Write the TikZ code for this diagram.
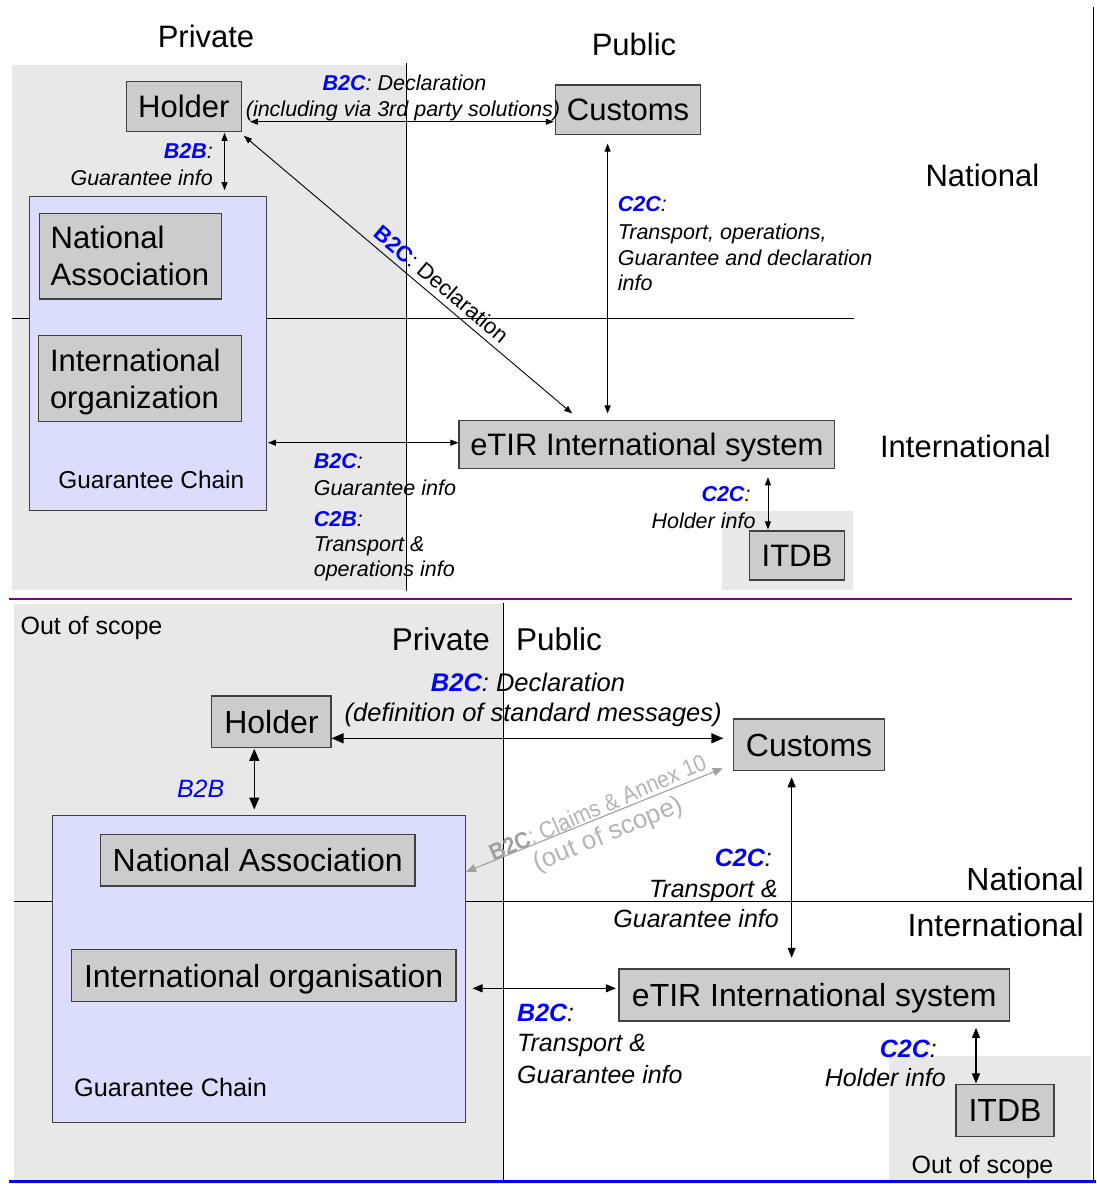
\documentclass[tikz,border=0pt]{standalone}
\usepackage{fontspec}
\usepackage{graphicx}
\setmainfont{Liberation Sans}
\usetikzlibrary{arrows.meta,calc}
\definecolor{bggray}{HTML}{E8E8E8}
\definecolor{boxgray}{HTML}{CCCCCC}
\definecolor{lav}{HTML}{DCDCFC}
\definecolor{kblue}{HTML}{0000FF}
\definecolor{kpurple}{HTML}{800080}
\definecolor{agray}{HTML}{A0A0A0}
\definecolor{tgray}{HTML}{B4B4B4}
\newcommand\myfs[1]{\fontsize{#1}{#1}\selectfont}
\newcommand\bc[1]{\textcolor{kblue}{\bfseries #1}}
\begin{document}
\begin{tikzpicture}[x=1pt,y=-1pt,
  boxbase/.style={draw=black!75, fill=boxgray, line width=1.1pt, inner sep=0pt},
  boxA/.style={boxbase, text height=22.2pt, text depth=0pt, font=\myfs{31}},
  boxB/.style={boxbase, text height=22.9pt, text depth=0pt, font=\myfs{32}},
  chainbox/.style={draw=black!75, fill=lav, line width=1pt, inner sep=0pt},
  lab/.style={inner sep=0pt, font=\myfs{21.5}\itshape},
  labB/.style={inner sep=0pt, font=\myfs{25}\itshape},
  hd/.style={inner sep=0pt, font=\myfs{31}},
  hdB/.style={inner sep=0pt, font=\myfs{32}},
  conn/.style={<->, >={Triangle[length=8pt,width=6pt]}, line width=0.9pt},
  connB/.style={<->, >={Triangle[length=12pt,width=10pt]}, line width=1.3pt},
  connC/.style={<->, >={Triangle[length=10pt,width=8pt]}, line width=1.1pt},
  connG/.style={<->, >={Triangle[length=10pt,width=8pt]}, line width=1.1pt, draw=agray, fill=agray}
]
\useasboundingbox (0,0) rectangle (1096,1184);
% backgrounds
\fill[bggray] (12,65) rectangle (406,590);
\fill[bggray] (721.8,511) rectangle (853.2,590);
\fill[bggray] (14.3,604) rectangle (503.6,1180);
\fill[bggray] (889.3,1056) rectangle (1090.8,1180);
% region lines
\draw[line width=1pt] (406,63) -- (406,591);
\draw[line width=1pt] (12,318.5) -- (854,318.5);
\draw[line width=1pt] (1093,7) -- (1093,1181);
\draw[kpurple, line width=2pt] (9,599) -- (1072,599);
\draw[line width=1pt] (503.6,603) -- (503.6,1180);
\draw[line width=1pt] (13.6,901.7) -- (1093,901.7);
\draw[kblue, line width=2.5pt] (9,1181.5) -- (1096,1181.5);

% ---------- top diagram ----------
\node[chainbox, minimum width=237.1pt, minimum height=314.7pt] (chain1) at (147.85,353.35) {};
\node[boxbase, font=\fontsize{31}{36.7}\selectfont, align=left, text width=159.7pt, inner xsep=11.4pt, minimum height=85.7pt] (na1) at (130.55,256.15) {National\\Association};
\node[boxbase, font=\fontsize{31}{37.3}\selectfont, align=left, text width=180pt, inner xsep=11.8pt, minimum height=86pt] (io1) at (140,378.7) {International\\\smash{organization}};
\node[boxA, minimum width=115pt, minimum height=50pt] (holder1) at (183.9,106.3) {Holder};
\node[boxA, minimum width=145.6pt, minimum height=49.7pt] (customs1) at (628.1,109.85) {Customs};
\node[boxA, minimum width=375.7pt, minimum height=48pt] (etir1) at (646.85,444.7) {eTIR International system};
\node[boxA, minimum width=95.3pt, minimum height=49pt] (itdb1) at (796.95,555.5) {ITDB};

\node[hd, anchor=base] (priv1) at (206,47) {Private};
\node[hd, anchor=base] (pub1) at (634,55) {Public};
\node[hd, anchor=base west] (nat1) at (925.4,186.7) {National};
\node[hd, anchor=base west] (intl1) at (879.9,457.7) {International};
\node[inner sep=0pt, font=\myfs{24.4}, anchor=base west] (gc1) at (58.2,488.3) {Guarantee Chain};

\draw[conn] ($(holder1.east)+(8,15.4)$) -- ($(customs1.west |- holder1.east)+(-1,15.4)$);
\draw[conn] ($(holder1.south east)+(-17.4,1)$) -- ($(holder1.south east |- chain1.north)+(-17.4,-5.3)$);
\draw[conn] ($(holder1.south east)+(2,4)$) -- ($(etir1.north west)+(113.7,-6.7)$);
\draw[conn] ($(customs1.south)+(-20.5,8.3)$) -- ($(customs1.south |- etir1.north)+(-20.5,-6.7)$);
\draw[conn] ($(chain1.east |- etir1.west)+(1,-2)$) -- ($(etir1.west)+(0,-2)$);
\draw[conn] ($(itdb1.north |- etir1.south)+(-29,8)$) -- ($(itdb1.north)+(-29,-1)$);

\node[lab, anchor=base] (l1a) at (404.5,90.7) {\bc{B2C}: Declaration};
\node[lab, anchor=base] (l1b) at (403,116.7) {(including via 3rd party solutions)};
\node[lab, anchor=base east] (l2a) at (213,158.3) {\bc{B2B}:};
\node[lab, anchor=base east] (l2b) at (213,185) {Guarantee info};
\node[inner sep=0pt, font=\myfs{22}, anchor=base, rotate=-40.2] (l3) at (436.4,290) {\bc{B2C}: Declaration};
\node[lab, anchor=base west] (l4a) at (617.6,211.7) {\bc{C2C}:};
\node[lab, anchor=base west] (l4b) at (617.6,239.3) {Transport, operations,};
\node[lab, anchor=base west] (l4c) at (617.6,265) {Guarantee and declaration};
\node[lab, anchor=base west] (l4d) at (617.6,290.5) {info};
\node[lab, anchor=base west] (l5a) at (313.6,468.3) {\bc{B2C}:};
\node[lab, anchor=base west] (l5b) at (313.6,495) {Guarantee info};
\node[lab, anchor=base west] (l5c) at (313.6,526) {\bc{C2B}:};
\node[lab, anchor=base west] (l5d) at (313.6,551.7) {Transport \&};
\node[lab, anchor=base west] (l5e) at (313.6,576.7) {operations info};
\node[lab, anchor=base east] (l6a) at (750.7,501.7) {\bc{C2C}:};
\node[lab, anchor=base east] (l6b) at (755.7,528.3) {Holder info};

% ---------- bottom diagram ----------
\node[chainbox, minimum width=412.9pt, minimum height=307.7pt] (chain2) at (258.95,968.85) {};
\node[boxB, minimum width=314.6pt, minimum height=51.7pt] (na2) at (257.7,860.15) {National Association};
\node[boxB, minimum width=384.6pt, minimum height=52pt] (io2) at (263.7,975.7) {International organisation};
\node[boxB, minimum width=119.2pt, minimum height=51.7pt] (holder2) at (271.4,721.85) {Holder};
\node[boxB, minimum width=151.3pt, minimum height=51.3pt] (customs2) at (809.05,744.65) {Customs};
\node[boxB, minimum width=390.5pt, minimum height=52pt] (etir2) at (814.25,995) {eTIR International system};
\node[boxB, minimum width=98pt, minimum height=52.4pt] (itdb2) at (1005,1110.5) {ITDB};

\node[inner sep=0pt, font=\myfs{25}, anchor=base west] (oos1) at (20.4,634.3) {Out of scope};
\node[inner sep=0pt, font=\myfs{31.5}, anchor=base east] (priv2) at (490,650) {Private};
\node[inner sep=0pt, font=\myfs{31.5}, anchor=base west] (pub2) at (516,650) {Public};
\node[hdB, anchor=base east] (nat2) at (1084,890) {National};
\node[hdB, anchor=base east] (intl2) at (1084,936.7) {International};
\node[inner sep=0pt, font=\myfs{25.3}, anchor=base west] (gc2) at (74,1096.7) {Guarantee Chain};
\node[inner sep=0pt, font=\myfs{25}, anchor=base] (oos2) at (982.5,1173.3) {Out of scope};

\draw[connB] ($(holder2.east)+(0,16.45)$) -- ($(customs2.west |- holder2.east)+(-9.5,16.45)$);
\draw[connB] ($(holder2.south)+(-17.1,0.6)$) -- ($(holder2.south |- chain2.north)+(-17.1,-5)$);
\draw[connG] ($(customs2.south west)+(-10,-2.6)$) -- ($(chain2.north east)+(0,57.3)$);
\draw[connC] ($(customs2.south)+(-17.4,6.4)$) -- ($(customs2.south |- etir2.north)+(-17.4,-10.7)$);
\draw[connC] ($(chain2.east |- etir2.west)+(6.6,-6.7)$) -- ($(etir2.west)+(-2.6,-6.7)$);
\draw[connC] ($(itdb2.north |- etir2.south)+(-29,6.3)$) -- ($(itdb2.north)+(-29,-0.3)$);

\node[inner sep=0pt, font=\myfs{25.5}\itshape, anchor=base] (m1a) at (528,691.7) {\bc{B2C}: Declaration};
\node[inner sep=0pt, font=\myfs{25.5}\itshape, anchor=base] (m1b) at (533.2,721) {(definition of standard messages)};
\node[labB, anchor=base west] (m2) at (176.8,797.3) {\textcolor{kblue}{B2B}};
\node[inner sep=0pt, font=\myfs{23.5}, rotate=23.5, text=tgray] (m3a) at (597.5,807.5) {\scalebox{0.9}[1]{\textcolor{agray}{\bfseries B2C}: Claims \& Annex 10}};
\node[inner sep=0pt, font=\myfs{26}, rotate=22.5, text=tgray] (m3b) at (608.5,835) {(out of scope)};
\node[labB, anchor=base east] (m4a) at (772,866.7) {\bc{C2C}:};
\node[labB, anchor=base east] (m4b) at (778,897.3) {Transport \&};
\node[labB, anchor=base east] (m4c) at (779,927.3) {Guarantee info};
\node[labB, anchor=base west] (m5a) at (517,1021.7) {\bc{B2C}:};
\node[labB, anchor=base west] (m5b) at (517,1051.7) {Transport \&};
\node[labB, anchor=base west] (m5c) at (517,1083.3) {Guarantee info};
\node[labB, anchor=base east] (m6a) at (937,1057.3) {\bc{C2C}:};
\node[labB, anchor=base east] (m6b) at (946,1086.7) {Holder info};
\end{tikzpicture}
\end{document}
